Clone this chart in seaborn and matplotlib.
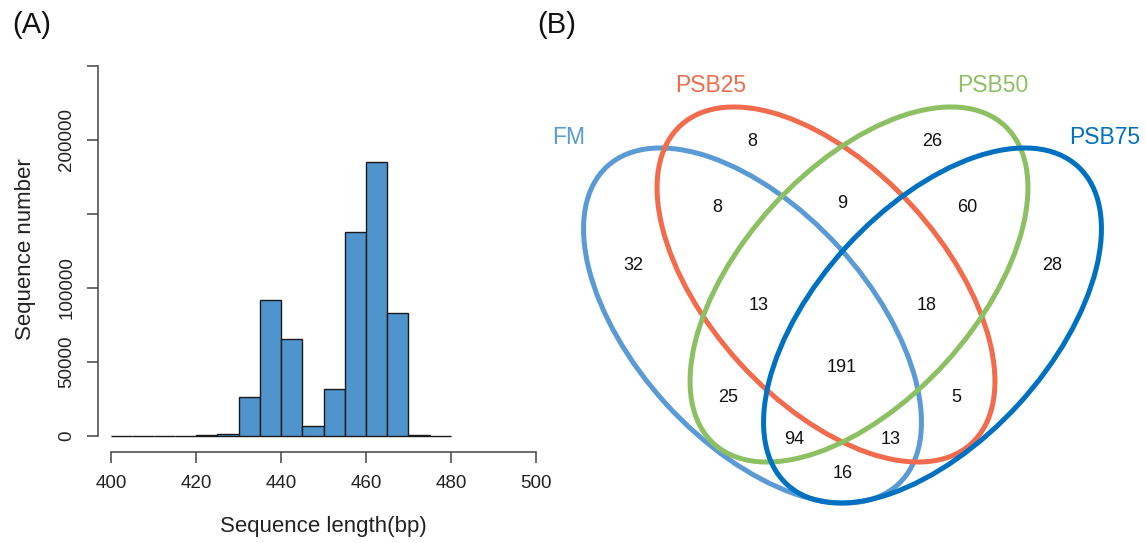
import numpy as np
import pandas as pd
import matplotlib
matplotlib.use("Agg")
import matplotlib.pyplot as plt
from matplotlib.patches import Ellipse
import seaborn as sns

# ---- data -------------------------------------------------------------
# histogram (A): left edge of each 5 bp bin and number of sequences in it
bin_left = [400, 405, 410, 415, 420, 425, 430, 435, 440, 445, 450, 455, 460, 465, 470, 475]
bin_right_end = 480
seq_counts = [0, 0, 0, 0, 500, 1400, 26500, 91600, 65300, 6300, 31700, 138000, 185000, 83100, 200, 0]

x_ticks = [400, 420, 440, 460, 480, 500]
y_ticks = [0, 50000, 100000, 150000, 200000, 250000]
y_tick_labels = ["0", "50000", "100000", "", "200000", ""]

# venn (B)
set_names = ["FM", "PSB25", "PSB50", "PSB75"]
set_colors = ["#5B9BD5", "#F26B4D", "#8DC063", "#0071C0"]
region_counts = [32, 8, 8, 9, 26, 60, 28, 13, 18, 191, 25, 5, 94, 13, 16]

# ---- layout (pixel coords of the right panel) --------------------------
ell_cx = [752.5, 826, 859, 932.5]
ell_cy = [325.5, 284.5, 284.5, 325.5]
ell_angle = [47.6, 47.6, -47.6, -47.6]
ell_w, ell_h = 2 * 215.5, 2 * 116.7
name_xy = [(569, 137), (711, 86), (993, 86), (1105, 137)]
count_xy = [(633, 265), (752, 142), (717, 208), (842, 203), (932, 142), (967, 208),
            (1052, 265), (759, 305), (927, 306), (842, 367), (728, 397), (956, 397),
            (794, 439), (891, 439), (843, 474)]

sns.set_style("white")
plt.rcParams["font.family"] = ["Liberation Sans", "DejaVu Sans"]

W, H = 1146, 543
fig = plt.figure(figsize=(W / 100, H / 100), dpi=100)

# ---- (A) histogram ----------------------------------------------------
ax = fig.add_axes([98.3 / W, (H - 452.3) / H, (550 - 98.3) / W, (452.3 - 60) / H])
df = pd.DataFrame({"mid": np.array(bin_left) + 2.5, "n": seq_counts})
sns.histplot(data=df, x="mid", weights="n", bins=bin_left + [bin_right_end],
             color="#4F94CD", edgecolor="#1a1a1a", linewidth=1.0, alpha=1, ax=ax)
ax.set_xlim(397.0, 503.3)
ax.set_ylim(-11230, 254100)

for s in ["top", "right"]:
    ax.spines[s].set_visible(False)
for s in ["left", "bottom"]:
    ax.spines[s].set_color("#444444")
    ax.spines[s].set_linewidth(1.1)
ax.spines["left"].set_bounds(0, 250000)
ax.spines["bottom"].set_bounds(400, 500)

ax.set_xticks(x_ticks)
ax.set_yticks(y_ticks)
ax.set_yticklabels(y_tick_labels, rotation=90, va="center")
ax.tick_params(axis="both", direction="out", length=8, width=1.1, color="#444444",
               labelsize=13.5, labelcolor="#222222", pad=8.5, left=True, bottom=True)

ax.set_xlabel("Sequence length(bp)", fontsize=16, color="#222222")
ax.xaxis.label.set_va("center")
ax.xaxis.set_label_coords(0.4986, -0.1904)
ax.set_ylabel("Sequence number", fontsize=16, color="#222222")
ax.yaxis.label.set_va("center")
ax.yaxis.set_label_coords(-0.1620, 0.518)

fig.text(32 / W, 1 - 25 / H, "(A)", fontsize=21, ha="center", va="center", color="#111111")
fig.text(557 / W, 1 - 25 / H, "(B)", fontsize=21, ha="center", va="center", color="#111111")

# ---- (B) venn ---------------------------------------------------------
vx = fig.add_axes([540 / W, 0, (W - 540) / W, 1])
vx.set_xlim(540, W)
vx.set_ylim(H, 0)
vx.axis("off")

for i in range(4):
    e = Ellipse((ell_cx[i], ell_cy[i]), ell_w, ell_h, angle=ell_angle[i],
                fill=False, edgecolor=set_colors[i], linewidth=3.6)
    vx.add_patch(e)
    vx.text(name_xy[i][0], name_xy[i][1], set_names[i], color=set_colors[i],
            fontsize=16.5, ha="center", va="center")

for (x, y), c in zip(count_xy, region_counts):
    vx.text(x, y, str(c), fontsize=13, ha="center", va="center", color="#111111")

fig.savefig("out.png", dpi=100)
